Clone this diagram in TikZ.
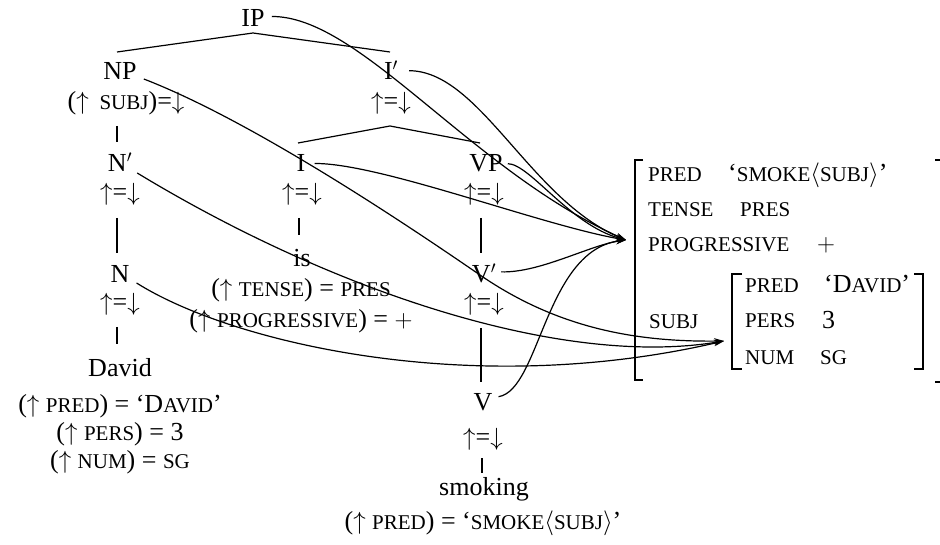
\documentclass[tikz,border=0pt]{standalone}
\usepackage{fontspec}
\setmainfont{Liberation Serif}
\usetikzlibrary{arrows.meta,calc}
\newcommand\sk[1]{{\fontsize{21}{25}\selectfont #1}}
\newcommand\up{$\uparrow$}
\newcommand\dn{$\downarrow$}
\tikzset{
  tl/.style={inner sep=4pt, anchor=base, font=\fontsize{26}{31}\selectfont},
  ann/.style={inner sep=0pt, anchor=base, font=\fontsize{26}{31}\selectfont},
  fs/.style={inner sep=0pt, anchor=base west, font=\fontsize{26}{31}\selectfont},
  tr/.style={line width=1.2pt},
  brk/.style={line width=1.6pt},
  cv/.style={line width=1.2pt, -{Stealth[length=10pt,width=6pt]}},
}
\begin{document}
\begin{tikzpicture}[x=1pt,y=-1pt]
\useasboundingbox (0,0) rectangle (940,545);
% tree nodes
\node[tl] (IP) at (253,27) {IP};
\node[tl] (NP) at (120,80) {NP};
\node[tl] (I1) at (391,80) {I$'$};
\node[ann] (NPa) at (126,110) {(\up\ \,\sk{SUBJ})=\dn};
\node[ann] (I1a) at (391,110) {\up=\dn};
\node[tl] (N1) at (120,172) {N$'$};
\node[tl] (I) at (301,172) {I};
\node[tl] (VP) at (486,172) {VP};
\node[ann] (N1a) at (120,201) {\up=\dn};
\node[ann] (Ia) at (302,201) {\up=\dn};
\node[ann] (VPa) at (484,201) {\up=\dn};
\node[tl] (is) at (302,267) {is};
\node[tl] (N) at (120,283) {N};
\node[tl] (V1) at (484,283) {V$'$};
\node[ann] (isa) at (301,297) {(\up\ \sk{TENSE}) = \sk{PRES}};
\node[ann] (Na) at (120,311) {\up=\dn};
\node[ann] (V1a) at (484,311) {\up=\dn};
\node[ann] (isb) at (301,327) {(\up\ \sk{PROGRESSIVE}) = $+$};
\node[tl] (David) at (120,377) {David};
\node[ann] (Da) at (120,412) {(\up\ \sk{PRED}) = `D\sk{AVID}'};
\node[ann] (Db) at (120,440) {(\up\ \sk{PERS}) = 3};
\node[ann] (Dc) at (120,468) {(\up\ \sk{NUM}) = \sk{SG}};
\node[tl] (V) at (483,410) {V};
\node[ann] (Va) at (483,445) {\up=\dn};
\node[tl] (smoking) at (484,495) {smoking};
\node[ann] (sma) at (483,529) {(\up\ \sk{PRED}) = `\sk{SMOKE}$\langle$\sk{SUBJ}$\rangle$'};
% f-structure
\node[fs] (fpred) at (648,182) {\sk{PRED}};
\node[fs] (fpredv) at (728,182) {`\sk{SMOKE}$\langle$\sk{SUBJ}$\rangle$'};
\node[fs] (ftense) at (648,217) {\sk{TENSE}};
\node[fs] (ftensev) at (740,217) {\sk{PRES}};
\node[fs] (fprog) at (648,252) {\sk{PROGRESSIVE}};
\node[fs] (fprogv) at (817,252) {$+$};
\node[fs] (fsubj) at (649,329) {\sk{SUBJ}};
\node[fs] (gpred) at (745,293) {\sk{PRED}};
\node[fs] (gpredv) at (824,293) {`D\sk{AVID}'};
\node[fs] (gpers) at (745,328) {\sk{PERS}};
\node[fs] (gpersv) at (822,329) {3};
\node[fs] (gnum) at (745,364) {\sk{NUM}};
\node[fs] (gnumv) at (820,364) {\sk{SG}};
\draw[brk] (643,160) -- (635,160) -- (635,380) -- (643,380);
\draw[brk] (935,160) -- (942,160) -- (942,382) -- (935,382);
\draw[brk] (742,274) -- (732,274) -- (732,369) -- (742,369);
\draw[brk] (914,274) -- (923,274) -- (923,369) -- (914,369);
\coordinate (f1) at (626,240);
\coordinate (f2) at (724,341);
% tree lines
\draw[tr] ($(NP.base)+(-3,-28)$) -- ($(IP.base)+(0,6)$) -- ($(I1.base)+(-1,-28)$);
\draw[tr] ($(I.base)+(-3,-29)$) -- ($(I1.base)+(-1,46)$) -- ($(VP.base)+(-6,-29)$);
\draw[tr] ($(N1.base)+(-3,-46)$) -- ++(0,16);
\draw[tr] ($(N.base)+(-3,-65)$) -- ++(0,35);
\draw[tr] ($(David.base)+(-3,-50)$) -- ++(0,17);
\draw[tr] ($(is.base)+(-3,-49)$) -- ++(0,17);
\draw[tr] ($(V1.base)+(-3,-65)$) -- ++(0,35);
\draw[tr] ($(V.base)+(-2,-82)$) -- ++(0,54);
\draw[tr] ($(smoking.base)+(-2,-37)$) -- ++(0,15);
% correspondence arrows
\draw[cv] ($(IP.east)+(3,-2)$) .. controls (360,16) and (470,170) .. (f1);
\draw[cv] ($(I1.east)+(7,0)$) .. controls (480,71) and (530,200) .. (f1);
\draw[cv] ($(I.east)+(5,0)$) .. controls (380,163) and (540,225) .. (f1);
\draw[cv] ($(VP.east)+(1,0)$) .. controls (530,164) and (570,225) .. (f1);
\draw[cv] ($(V1.east)+(1,-2)$) .. controls (540,273) and (590,245) .. (f1);
\draw[cv] ($(V.east)+(2,-5)$) .. controls (540,390) and (545,250) .. (f1);
\draw[cv] ($(NP.base east)+(3,-1)$) .. controls (250,120) and (400,220) .. (480,275) .. controls (560,330) and (640,342) .. (f2);
\draw[cv] ($(N1.base east)+(1,1)$) .. controls (330,290) and (560,368) .. (f2);
\draw[cv] ($(N.base east)+(3,0)$) .. controls (230,342) and (470,400) .. (f2);
\end{tikzpicture}
\end{document}
